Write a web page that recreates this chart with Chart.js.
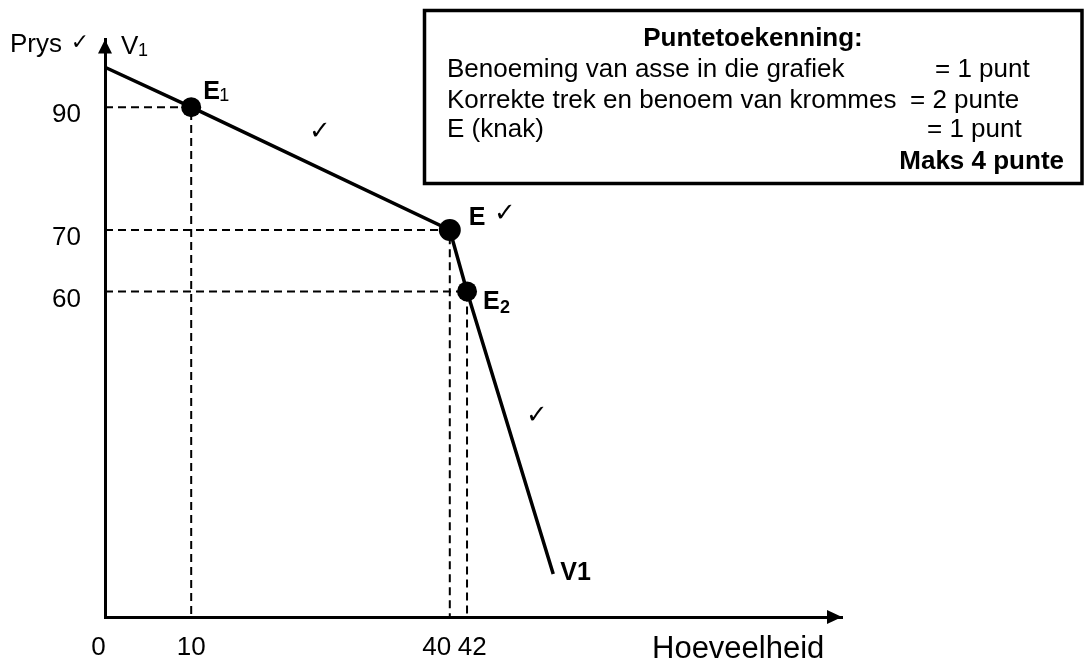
<!DOCTYPE html>
<html>
<head>
<meta charset="utf-8">
<script src="https://cdn.jsdelivr.net/npm/chart.js@4.4.1/dist/chart.umd.min.js"></script>
<style>
  body { margin: 0; background: #fff; }
  canvas { display: block; }
</style>
</head>
<body>
<canvas id="kinkChart" width="1087" height="661"></canvas>
<script>
// vraagkromme V1 (hoeveelheid, prys)
var quantity = [0, 10, 40, 42, 52];
var price = [96.5, 90, 70, 60, 14];
var pointSize = [0, 10, 11, 10, 0];

// gemerkte punte E1, E, E2 with dashed guides
var markedQ = [10, 40, 42];
var markedP = [90, 70, 60];

var xTicks = [0, 10, 40, 42];
var yTicks = [90, 70, 60];

var FONT = "'Liberation Sans', Arial, sans-serif";
var Y_MIN = 7, Y_MAX = 101;

var curve = quantity.map(function (q, i) { return { x: q, y: price[i] }; });

var guideSets = markedQ.map(function (q, i) {
  return {
    data: [{ x: 0, y: markedP[i] }, { x: q, y: markedP[i] }, { x: q, y: Y_MIN }],
    borderColor: '#000',
    borderWidth: 2,
    borderDash: [8, 5],
    pointRadius: 0,
    fill: false,
    clip: false
  };
});

// nudge crowded tick labels (0 sits left of the axis, 40 and 42 are close)
function xLabel(v) {
  if (v === 0) return '0\u2002';
  if (v === 40) return '40\u2002\u2002';
  if (v === 42) return '\u2009\u200942';
  return String(v);
}

function txt(ctx, s, x, y, size, bold, align) {
  ctx.font = (bold ? 'bold ' : '') + size + 'px ' + FONT;
  ctx.textAlign = align || 'left';
  ctx.textBaseline = 'alphabetic';
  ctx.fillStyle = '#000';
  // y is the visual middle of capitals
  ctx.fillText(s, x, y + size * 0.36);
}

function tick(ctx, x, y, size, bold) {
  ctx.font = (bold ? 'bold ' : '') + (size || 24) + 'px DejaVu Sans';
  ctx.textAlign = 'center';
  ctx.textBaseline = 'middle';
  ctx.fillStyle = '#000';
  ctx.fillText('\u2713', x, y);
}

var extras = {
  id: 'extras',
  afterDraw: function (chart) {
    var ctx = chart.ctx;
    var xs = chart.scales.x, ys = chart.scales.y;
    var a = chart.chartArea;
    ctx.save();

    // arrow heads
    ctx.fillStyle = '#000';
    ctx.beginPath();
    ctx.moveTo(a.left, a.top);
    ctx.lineTo(a.left - 7, a.top + 14);
    ctx.lineTo(a.left + 7, a.top + 14);
    ctx.closePath();
    ctx.fill();
    ctx.beginPath();
    ctx.moveTo(a.right, a.bottom);
    ctx.lineTo(a.right - 15, a.bottom - 7);
    ctx.lineTo(a.right - 15, a.bottom + 7);
    ctx.closePath();
    ctx.fill();

    // axis names
    txt(ctx, 'Prys', 10, 43, 26, false);
    tick(ctx, 80, 43, 22);
    txt(ctx, 'V', a.left + 16, 45, 26, false);
    txt(ctx, '1', a.left + 33, 50, 18, false);
    txt(ctx, 'Hoeveelheid', 652, 647, 31, false);

    // point names
    var p1 = { x: xs.getPixelForValue(markedQ[0]), y: ys.getPixelForValue(markedP[0]) };
    var p2 = { x: xs.getPixelForValue(markedQ[1]), y: ys.getPixelForValue(markedP[1]) };
    var p3 = { x: xs.getPixelForValue(markedQ[2]), y: ys.getPixelForValue(markedP[2]) };
    var pe = { x: xs.getPixelForValue(quantity[quantity.length - 1]), y: ys.getPixelForValue(price[price.length - 1]) };

    txt(ctx, 'E', p1.x + 12, p1.y - 17, 25, true);
    txt(ctx, '1', p1.x + 28, p1.y - 13, 18, false);

    txt(ctx, 'E', p2.x + 19, p2.y - 14, 25, true);
    tick(ctx, p2.x + 55, p2.y - 16, 26);

    txt(ctx, 'E', p3.x + 16, p3.y + 9, 25, true);
    txt(ctx, '2', p3.x + 33, p3.y + 15, 18, true);

    txt(ctx, 'V1', pe.x + 7, pe.y - 3, 25, true);

    // ticks on the curve
    tick(ctx, 320, 132, 26, true);
    tick(ctx, 537, 416, 26, true);

    // mark scheme box
    ctx.lineWidth = 3.5;
    ctx.strokeStyle = '#000';
    ctx.fillStyle = '#fff';
    ctx.fillRect(424.5, 10.5, 657.5, 173);
    ctx.strokeRect(424.5, 10.5, 657.5, 173);
    txt(ctx, 'Puntetoekenning:', 753, 37, 26, true, 'center');
    txt(ctx, 'Benoeming van asse in die grafiek', 447, 68, 26, false);
    txt(ctx, '= 1 punt', 935, 68, 26, false);
    txt(ctx, 'Korrekte trek en benoem van krommes', 447, 99, 26, false);
    txt(ctx, '= 2 punte', 910, 99, 26, false);
    txt(ctx, 'E (knak)', 447, 128, 26, false);
    txt(ctx, '= 1 punt', 927, 128, 26, false);
    txt(ctx, 'Maks 4 punte', 1064, 160, 26, true, 'right');

    ctx.restore();
  }
};

new Chart(document.getElementById('kinkChart'), {
  type: 'line',
  data: {
    datasets: [{
      data: curve,
      borderColor: '#000',
      borderWidth: 3.5,
      pointRadius: pointSize,
      pointBackgroundColor: '#000',
      pointBorderWidth: 0,
      fill: false,
      clip: false
    }].concat(guideSets)
  },
  options: {
    responsive: false,
    animation: false,
    layout: { padding: { top: 30, right: 245, left: 0, bottom: 0 } },
    plugins: { legend: { display: false }, tooltip: { enabled: false }, title: { display: false } },
    scales: {
      x: {
        type: 'linear',
        min: 0,
        max: 85.5,
        grid: { display: false, drawTicks: false },
        border: { display: true, color: '#000', width: 3 },
        ticks: { color: '#000', padding: 15, font: { size: 26, family: FONT }, callback: xLabel },
        afterBuildTicks: function (s) { s.ticks = xTicks.map(function (v) { return { value: v }; }); },
        afterFit: function (s) { s.height = 44; }
      },
      y: {
        type: 'linear',
        min: Y_MIN,
        max: Y_MAX,
        grid: { display: false, drawTicks: false },
        border: { display: true, color: '#000', width: 3 },
        ticks: { color: '#000', padding: 24, labelOffset: 8, font: { size: 26, family: FONT } },
        afterBuildTicks: function (s) { s.ticks = yTicks.map(function (v) { return { value: v }; }); },
        afterFit: function (s) { s.width = 105; }
      }
    }
  },
  plugins: [extras]
});
</script>
</body>
</html>
